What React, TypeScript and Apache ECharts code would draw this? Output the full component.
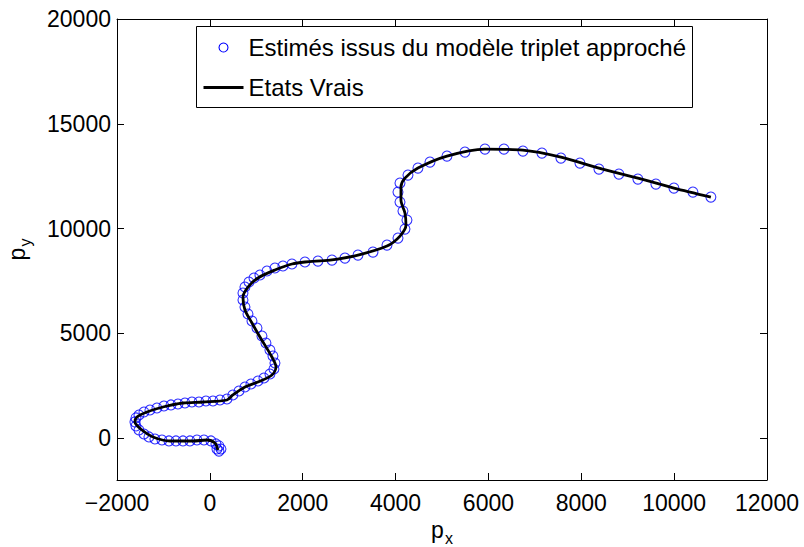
import React, { useEffect, useRef } from "react";
import * as echarts from "echarts";

const xTicks = [-2000, 0, 2000, 4000, 6000, 8000, 10000, 12000];
const yTicks = [0, 5000, 10000, 15000, 20000];

const seriesNames = ["Estimés issus du modèle triplet approché", "Etats Vrais"];

// Estimated positions (circles)
const estimates: number[][] = [
  [196, -620], [239, -520], [153, -520], [196, -375], [131, -280],
  [24, -138], [-127, -91], [-278, -91], [-429, -138], [-579, -138],
  [-730, -138], [-881, -138], [-1032, -91], [-1183, -43], [-1312, 53],
  [-1419, 196], [-1527, 387], [-1592, 577], [-1613, 773], [-1592, 960],
  [-1527, 1102], [-1419, 1245], [-1290, 1340], [-1140, 1436], [-989, 1532],
  [-838, 1580], [-687, 1627], [-536, 1675], [-386, 1723], [-235, 1723],
  [-84, 1770], [67, 1770], [218, 1818], [368, 1866], [495, 2057],
  [627, 2248], [756, 2439], [885, 2582], [1036, 2725], [1165, 2868],
  [1294, 3059], [1380, 3297], [1402, 3584], [1359, 3918], [1294, 4204],
  [1208, 4538], [1122, 4872], [1015, 5254], [907, 5588], [821, 5922],
  [756, 6256], [713, 6590], [713, 6924], [756, 7210], [842, 7449],
  [950, 7640], [1079, 7783], [1230, 7974], [1402, 8117], [1574, 8212],
  [1768, 8308], [2048, 8404], [2328, 8446], [2630, 8494], [2910, 8589],
  [3190, 8733], [3513, 8876], [3815, 9210], [4052, 9544], [4202, 9974],
  [4245, 10403], [4159, 10833], [4095, 11262], [4052, 11739], [4095, 12169],
  [4267, 12550], [4482, 12884], [4741, 13171], [5107, 13457], [5494, 13648],
  [5925, 13791], [6334, 13791], [6743, 13696], [7152, 13600], [7561, 13362],
  [7971, 13123], [8380, 12837], [8810, 12598], [9219, 12359], [9607, 12121],
  [9995, 11930], [10404, 11739], [10791, 11500],
];

// True states (line)
const trueStates: number[][] = [
  [172, -568], [110, -234], [-62, -91], [-364, -138], [-859, -138],
  [-1226, 53], [-1463, 387], [-1613, 768], [-1570, 1006], [-1355, 1245],
  [-1010, 1484], [-579, 1675], [-149, 1723], [368, 1818], [495, 2057],
  [756, 2439], [1036, 2678], [1337, 3012], [1424, 3393], [1337, 3870],
  [1079, 4825], [907, 5493], [756, 6113], [713, 6733], [821, 7210],
  [1036, 7640], [1402, 8022], [1768, 8308], [2048, 8404], [2587, 8494],
  [3190, 8733], [3815, 9163], [4095, 9640], [4224, 10165], [4202, 10738],
  [4116, 11358], [4116, 11978], [4202, 12407], [4482, 12884], [5107, 13457],
  [5925, 13791], [6743, 13743], [7561, 13409], [8380, 12884], [9219, 12407],
  [9995, 11930], [10791, 11500],
];

const FONT = "'Liberation Sans', Arial, Helvetica, sans-serif";
const FS = 23;
const LFS = 24;

const fmt = (v: number) => (v < 0 ? "\u2212" + Math.abs(v) : String(v));

export default function App() {
  const ref = useRef<HTMLDivElement>(null);
  useEffect(() => {
    if (!ref.current) return;
    const chart = echarts.init(ref.current, undefined, { renderer: "svg" });
    const axisLine = { show: true, onZero: false, lineStyle: { color: "#000", width: 1 } };
    const axisTick = { show: true, inside: true, length: 7, lineStyle: { color: "#000", width: 1 } };
    const nameRich = {
      p: { fontSize: FS, fontFamily: FONT, color: "#000" },
      s: { fontSize: 16, fontFamily: FONT, color: "#000", padding: [16, 0, 0, 1] },
    };
    const option: any = {
      animation: false,
      backgroundColor: "#fff",
      grid: { left: 117, right: 37, top: 19, bottom: 67, outerBoundsMode: "none", containLabel: false },
      xAxis: [
        {
          type: "value",
          min: xTicks[0],
          max: xTicks[xTicks.length - 1],
          interval: 2000,
          position: "bottom",
          axisLine,
          axisTick,
          splitLine: { show: false },
          axisLabel: {
            color: "#000",
            fontFamily: FONT,
            fontSize: FS,
            margin: 11,
            formatter: fmt,
          },
          name: "{p|p}{s|x}",
          nameLocation: "middle",
          nameGap: 29,
          nameTextStyle: { rich: nameRich },
        },
        {
          type: "value",
          min: xTicks[0],
          max: xTicks[xTicks.length - 1],
          interval: 2000,
          position: "top",
          axisLine,
          axisTick,
          splitLine: { show: false },
          axisLabel: { show: false },
        },
      ],
      yAxis: [
        {
          type: "value",
          min: -2000,
          max: 20000,
          position: "left",
          axisLine,
          axisTick: { ...axisTick, customValues: yTicks },
          splitLine: { show: false },
          axisLabel: {
            color: "#000",
            fontFamily: FONT,
            fontSize: FS,
            margin: 6,
            customValues: yTicks,
            formatter: fmt,
          },
          name: "{p|p}{s|y}",
          nameLocation: "middle",
          nameGap: 84,
          nameTextStyle: { rich: nameRich },
        },
        {
          type: "value",
          min: -2000,
          max: 20000,
          position: "right",
          axisLine,
          axisTick: { ...axisTick, customValues: yTicks },
          splitLine: { show: false },
          axisLabel: { show: false },
        },
      ],
      series: [
        {
          name: seriesNames[0],
          type: "scatter",
          data: estimates,
          symbol: "circle",
          symbolSize: 10,
          itemStyle: { color: "rgba(0,0,0,0)", borderColor: "#0000ff", borderWidth: 1.1 },
          z: 2,
        },
        {
          name: seriesNames[1],
          type: "line",
          data: trueStates,
          showSymbol: false,
          smooth: 0.3,
          lineStyle: { color: "#000", width: 2.8 },
          z: 3,
        },
      ],
      graphic: [
        {
          type: "group",
          left: 196,
          top: 26,
          z: 100,
          children: [
            { type: "rect", shape: { x: 0, y: 0, width: 496, height: 81 }, style: { fill: "#fff", stroke: "#000", lineWidth: 1 } },
            { type: "circle", shape: { cx: 27, cy: 21, r: 4.5 }, style: { fill: "none", stroke: "#0000ff", lineWidth: 1.1 } },
            { type: "text", x: 52, y: 21, style: { text: seriesNames[0], font: `${LFS}px ${FONT}`, fill: "#000", verticalAlign: "middle" } },
            { type: "line", shape: { x1: 7, y1: 61, x2: 47, y2: 61 }, style: { stroke: "#000", lineWidth: 2.8 } },
            { type: "text", x: 52, y: 61, style: { text: seriesNames[1], font: `${LFS}px ${FONT}`, fill: "#000", verticalAlign: "middle" } },
          ],
        },
      ],
    };
    chart.setOption(option);
    return () => chart.dispose();
  }, []);
  return <div ref={ref} style={{ position: "fixed", left: 0, top: 0, width: 804, height: 547 }} />;
}
